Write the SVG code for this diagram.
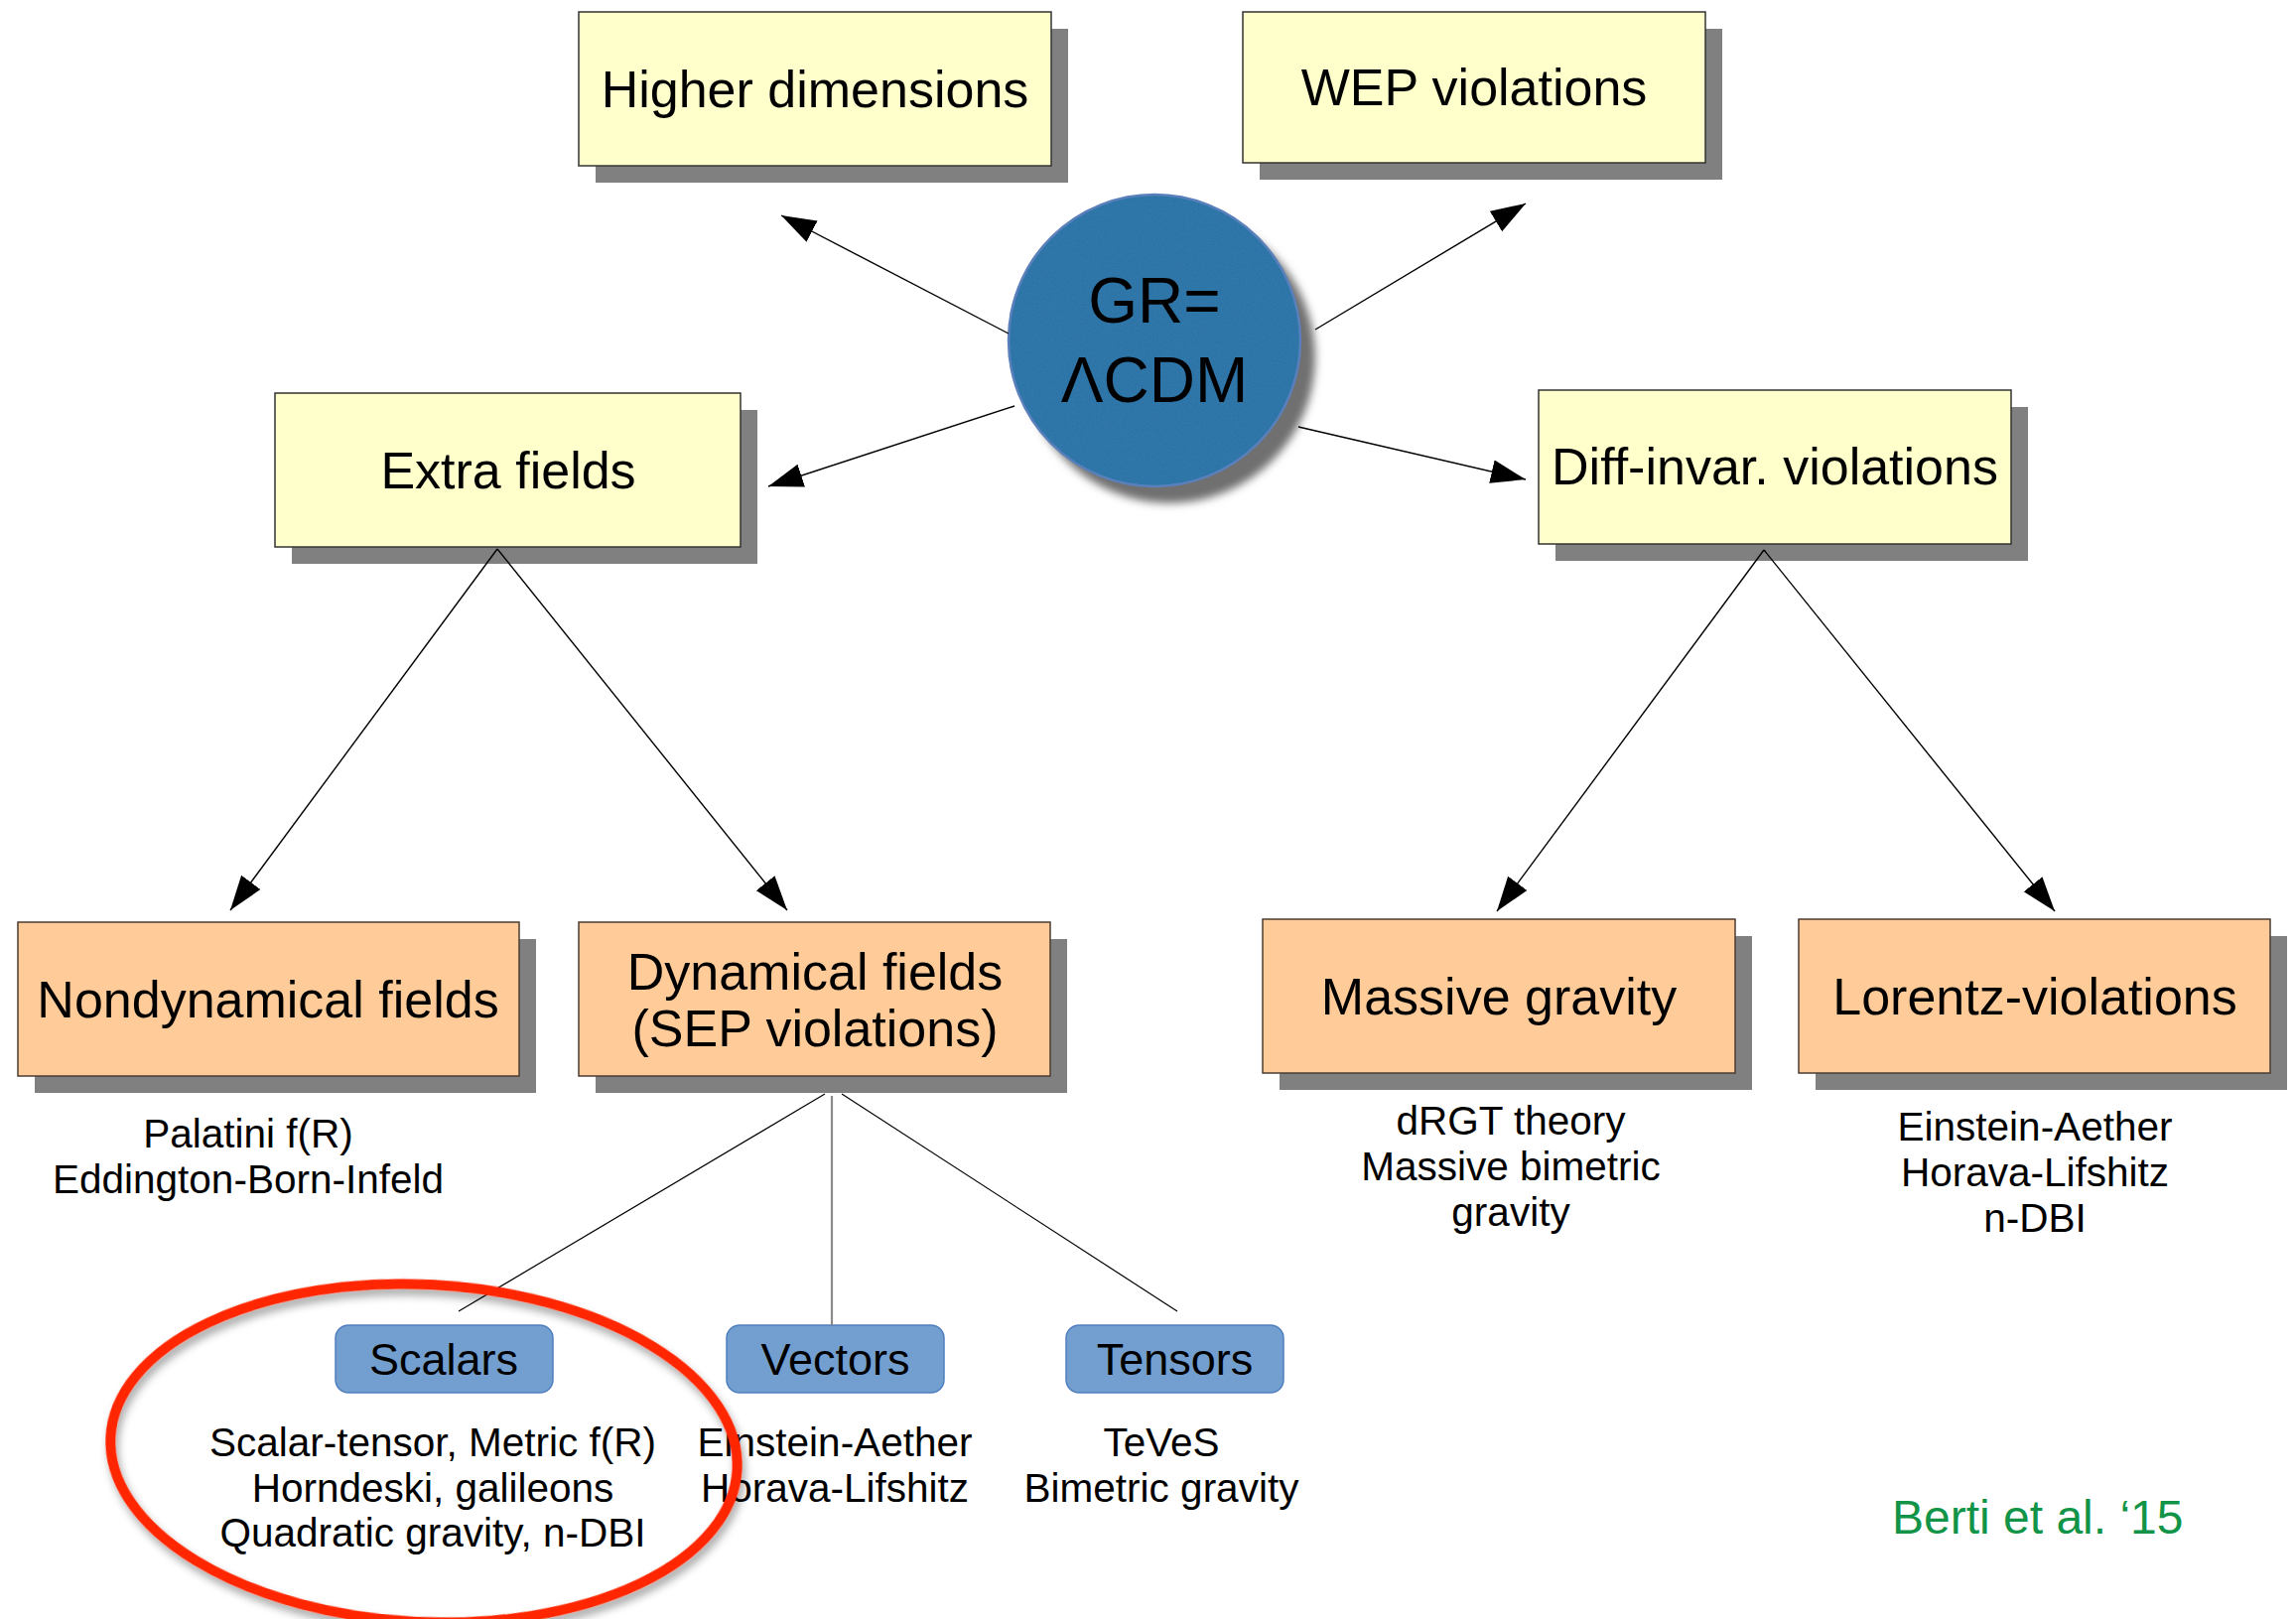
<svg xmlns="http://www.w3.org/2000/svg" width="2313" height="1631" viewBox="0 0 2313 1631">
  <defs>
    <style>
      .shadow { fill: #808080; }
      .yellow { fill: #ffffcc; stroke: #333333; stroke-width: 1.5; }
      .orange { fill: #ffcc99; stroke: #4a3c30; stroke-width: 1.5; }
      .blue { fill: #729fcf; stroke: #4f7fbf; stroke-width: 1.5; }
      .title { font-family: "Liberation Sans", Arial, sans-serif; font-size: 52px; fill: #000; text-anchor: middle; }
      .chip { font-family: "Liberation Sans", Arial, sans-serif; font-size: 45px; fill: #000; text-anchor: middle; }
      .body { font-family: "Liberation Sans", Arial, sans-serif; font-size: 40.5px; fill: #000; text-anchor: middle; }
      .gr { font-family: "Liberation Sans", Arial, sans-serif; font-size: 64px; fill: #000; text-anchor: middle; }
      .arrow { stroke: #000; stroke-width: 1.4; fill: none; marker-end: url(#ah); }
      .line { stroke: #000; stroke-width: 1.2; fill: none; }
      .vline { stroke: #8a8a8a; stroke-width: 2.2; fill: none; }
    </style>
    <marker id="ah" markerUnits="userSpaceOnUse" markerWidth="36" markerHeight="26" refX="35" refY="12" orient="auto">
      <path d="M0,0 L35,12 L0,24 Z" fill="#000"/>
    </marker>
    <filter id="blur" x="-20%" y="-20%" width="140%" height="140%">
      <feGaussianBlur stdDeviation="4"/>
    </filter>
    <filter id="felt" x="0" y="0" width="100%" height="100%">
      <feTurbulence type="fractalNoise" baseFrequency="0.7" numOctaves="3" seed="5" result="n"/>
      <feColorMatrix in="n" type="matrix" values="0 0 0 0 0.05  0 0 0 0 0.25  0 0 0 0 0.45  0 0 0 0.6 -0.2" result="c"/>
      <feComposite in="c" in2="SourceGraphic" operator="in" result="t"/>
      <feMerge><feMergeNode in="SourceGraphic"/><feMergeNode in="t"/></feMerge>
    </filter>
    <filter id="redshadow" x="-10%" y="-10%" width="120%" height="125%">
      <feDropShadow dx="3" dy="6" stdDeviation="4" flood-color="#000" flood-opacity="0.35"/>
    </filter>
  </defs>

  <rect width="2313" height="1631" fill="#ffffff"/>

  <g id="node-gr">
    <circle cx="1178" cy="360" r="147" fill="#6f6f6f" filter="url(#blur)"/>
    <circle cx="1163" cy="343" r="147" fill="#2d73a7" filter="url(#felt)"/>
    <circle cx="1163" cy="343" r="147" fill="none" stroke="#5a80bb" stroke-width="2.5"/>
    <text class="gr" x="1163" y="325">GR=</text>
    <text class="gr" x="1163" y="405">ΛCDM</text>
  </g>

  <g id="node-higher-dimensions">
    <rect class="shadow" x="600" y="29" width="476" height="155"/>
    <rect class="yellow" x="583" y="12" width="476" height="155"/>
    <text class="title" x="821" y="108">Higher dimensions</text>
  </g>

  <g id="node-wep">
    <rect class="shadow" x="1269" y="29" width="466" height="152"/>
    <rect class="yellow" x="1252" y="12" width="466" height="152"/>
    <text class="title" x="1485" y="106">WEP violations</text>
  </g>

  <g id="node-extra-fields">
    <rect class="shadow" x="294" y="413" width="469" height="155"/>
    <rect class="yellow" x="277" y="396" width="469" height="155"/>
    <text class="title" x="512" y="492">Extra fields</text>
  </g>

  <g id="node-diff-invar">
    <rect class="shadow" x="1567" y="410" width="476" height="155"/>
    <rect class="yellow" x="1550" y="393" width="476" height="155"/>
    <text class="title" x="1788" y="488">Diff-invar. violations</text>
  </g>

  <g id="node-nondynamical">
    <rect class="shadow" x="35" y="946" width="505" height="155"/>
    <rect class="orange" x="18" y="929" width="505" height="155"/>
    <text class="title" x="270" y="1025">Nondynamical fields</text>
    <text class="body" x="250" y="1156">Palatini f(R)</text>
    <text class="body" x="250" y="1202">Eddington-Born-Infeld</text>
  </g>

  <g id="node-dynamical">
    <rect class="shadow" x="600" y="946" width="475" height="155"/>
    <rect class="orange" x="583" y="929" width="475" height="155"/>
    <text class="title" x="821" y="997">Dynamical fields</text>
    <text class="title" x="821" y="1054">(SEP violations)</text>
  </g>

  <g id="node-massive">
    <rect class="shadow" x="1289" y="943" width="476" height="155"/>
    <rect class="orange" x="1272" y="926" width="476" height="155"/>
    <text class="title" x="1510" y="1022">Massive gravity</text>
    <text class="body" x="1522" y="1143">dRGT theory</text>
    <text class="body" x="1522" y="1189">Massive bimetric</text>
    <text class="body" x="1522" y="1235">gravity</text>
  </g>

  <g id="node-lorentz">
    <rect class="shadow" x="1829" y="943" width="475" height="155"/>
    <rect class="orange" x="1812" y="926" width="475" height="155"/>
    <text class="title" x="2050" y="1022">Lorentz-violations</text>
    <text class="body" x="2050" y="1149">Einstein-Aether</text>
    <text class="body" x="2050" y="1195">Horava-Lifshitz</text>
    <text class="body" x="2050" y="1241">n-DBI</text>
  </g>

  <g id="node-scalars">
    <rect class="blue" x="338" y="1335" width="219" height="68" rx="13"/>
    <text class="chip" x="447" y="1385">Scalars</text>
    <text class="body" x="436" y="1467">Scalar-tensor, Metric f(R)</text>
    <text class="body" x="436" y="1513">Horndeski, galileons</text>
    <text class="body" x="436" y="1558">Quadratic gravity, n-DBI</text>
  </g>

  <g id="node-vectors">
    <rect class="blue" x="732" y="1335" width="219" height="68" rx="13"/>
    <text class="chip" x="841.5" y="1385">Vectors</text>
    <text class="body" x="841" y="1467">Einstein-Aether</text>
    <text class="body" x="841" y="1513">Horava-Lifshitz</text>
  </g>

  <g id="node-tensors">
    <rect class="blue" x="1074" y="1335" width="219" height="68" rx="13"/>
    <text class="chip" x="1183.5" y="1385">Tensors</text>
    <text class="body" x="1170" y="1467">TeVeS</text>
    <text class="body" x="1170" y="1513">Bimetric gravity</text>
  </g>

  <g id="connectors">
    <line class="arrow" x1="1016" y1="336" x2="787" y2="217"/>
    <line class="arrow" x1="1325" y1="332" x2="1537" y2="205"/>
    <line class="arrow" x1="1022" y1="409" x2="774" y2="490"/>
    <line class="arrow" x1="1308" y1="430" x2="1537" y2="483"/>
    <line class="arrow" x1="501" y1="553" x2="232" y2="917"/>
    <line class="arrow" x1="501" y1="553" x2="793" y2="917"/>
    <line class="arrow" x1="1777" y1="554" x2="1508" y2="918"/>
    <line class="arrow" x1="1777" y1="554" x2="2070" y2="918"/>
    <line class="line" x1="831" y1="1102" x2="462" y2="1321"/>
    <line class="vline" x1="838" y1="1104" x2="838" y2="1335"/>
    <line class="line" x1="848" y1="1102" x2="1186" y2="1321"/>
  </g>

  <g id="highlight">
    <ellipse cx="427" cy="1464" rx="316" ry="170" transform="rotate(3 427 1464)" fill="none" stroke="#ff2600" stroke-width="10" filter="url(#redshadow)"/>
  </g>

  <g id="citation">
    <text x="1906" y="1545" font-family="'Liberation Sans', Arial, sans-serif" font-size="48" fill="#119447">Berti et al. ‘15</text>
  </g>
</svg>
